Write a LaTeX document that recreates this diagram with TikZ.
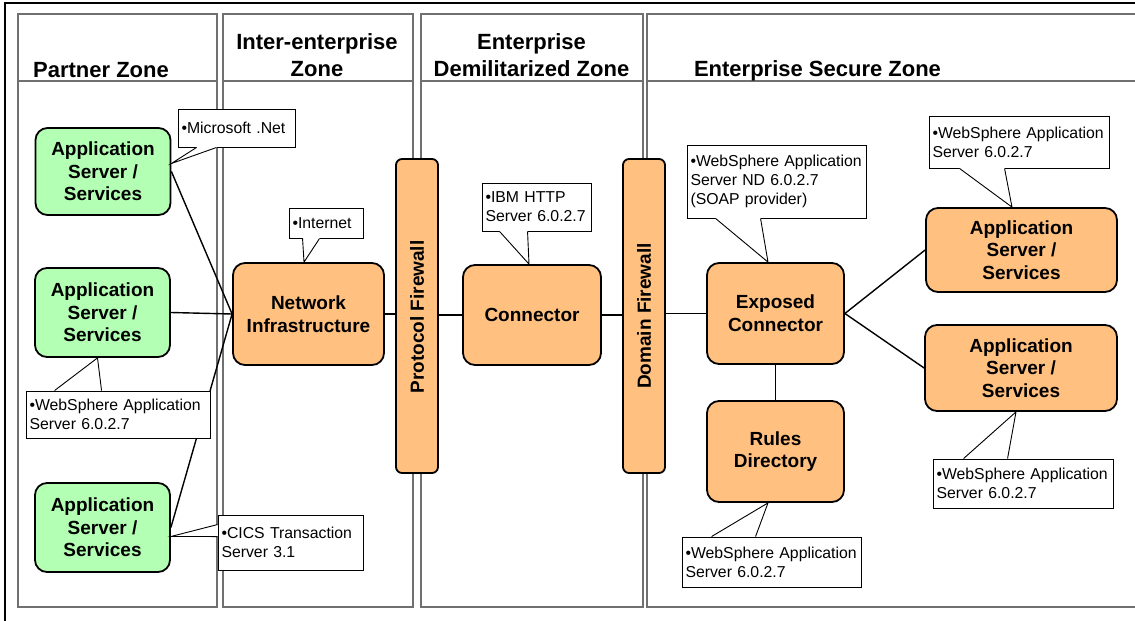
\documentclass[tikz,border=0pt]{standalone}
\usepackage{fontspec}
\setmainfont{Liberation Sans}
\usetikzlibrary{calc}
\definecolor{nodegreen}{RGB}{179,255,179}
\definecolor{nodeorange}{RGB}{255,192,128}
\definecolor{zonegray}{RGB}{112,112,112}
\newcommand{\calloutwedge}[3]{%
  \fill[white] (#1) -- (#3) -- (#2) -- cycle;
  \draw[white, line width=1.6pt] (#1) -- (#2);
  \draw[wedgeline] (#1) -- (#3) -- (#2);}
\begin{document}
\begin{tikzpicture}[x=1pt,y=-1pt,
  zone/.style={draw=zonegray, line width=1.6pt},
  hdr/.style={font=\fontsize{22}{26.5}\selectfont\bfseries, inner sep=0pt, anchor=base},
  box/.style={draw=black, line width=1.8pt, rounded corners=12pt, font=\fontsize{19}{22.7}\selectfont\bfseries, align=center, inner sep=0pt},
  greenbox/.style={box, fill=nodegreen},
  orangebox/.style={box, fill=nodeorange},
  fwbox/.style={draw=black, line width=1.8pt, rounded corners=6pt, fill=nodeorange, inner sep=0pt, minimum width=42pt, minimum height=314pt},
  fwtext/.style={rotate=90, font=\fontsize{19}{22.7}\selectfont\bfseries, inner sep=0pt},
  link/.style={draw=black, line width=1.4pt},
  callout/.style={draw=black, line width=0.9pt, fill=white, inner xsep=3.5pt, inner ysep=0pt, font=\fontsize{15.8}{19}\selectfont, align=left},
  wedgeline/.style={draw=black, line width=0.9pt, line join=miter},
]
\useasboundingbox (0,0) rectangle (1135,621);
\clip (0,0) rectangle (1135,621);

% outer frame
\draw[line width=1.2pt] (5,625) -- (5,3) -- (1140,3);

% zones
\draw[zone] (18,14) rectangle (217,607) (18,81) -- (217,81);
\draw[zone] (223,14) rectangle (413,607) (223,81) -- (413,81);
\draw[zone] (421,14) rectangle (643,607) (421,81) -- (643,81);
\draw[zone] (647,14) rectangle (1145,607) (647,81) -- (1145,81);

\node[hdr] (hPartner) at (101,77) {Partner Zone};
\node[hdr] (hInterA) at (317,49) {Inter-enterprise};
\node[hdr] (hInterB) at (317,76) {Zone};
\node[hdr] (hDmzA) at (531.5,49) {Enterprise};
\node[hdr] (hDmzB) at (531.5,76) {Demilitarized Zone};
\node[hdr] (hSecure) at (817.5,76) {Enterprise Secure Zone};

% nodes
\node[greenbox, minimum width=135pt, minimum height=87pt] (app1) at (103,171.5) {Application\\Server /\\Services};
\node[greenbox, minimum width=135pt, minimum height=89pt] (app2) at (102.5,312.5) {Application\\Server /\\Services};
\node[greenbox, minimum width=135pt, minimum height=89pt] (app3) at (102.5,527.5) {Application\\Server /\\Services};
\node[orangebox, minimum width=151pt, minimum height=102pt] (net) at (308.5,314) {Network\\Infrastructure};
\node[orangebox, minimum width=138pt, minimum height=100pt] (conn) at (532,315) {Connector};
\node[orangebox, minimum width=137pt, minimum height=101pt] (exp) at (775.5,313.5) {Exposed\\Connector};
\node[orangebox, minimum width=137pt, minimum height=101pt] (rules) at (775.5,451.5) {Rules\\Directory};
\node[orangebox, minimum width=191pt, minimum height=84pt] (r1) at (1021.5,250) {Application\\Server /\\Services};
\node[orangebox, minimum width=192pt, minimum height=86pt] (r2) at (1021,368) {Application\\Server /\\Services};

\node[fwbox] (pfw) at (417,316) {};
\node[fwtext] (pfwt) at (417,317) {Protocol Firewall};
\node[fwbox] (dfw) at (644,316) {};
\node[fwtext] (dfwt) at (644,316) {Domain Firewall};

% links
\draw[link] (app1.east) -- (net.west);
\draw[link] (app2.east) -- (net.west);
\draw[link] (app3.east) -- (net.west);
\draw[link] (net.east) -- (net.east -| pfw.west);
\draw[link] (conn.west -| pfw.east) -- (conn.west);
\draw[link] (conn.east) -- (conn.east -| dfw.west);
\draw[link] (exp.west -| dfw.east) -- (exp.west);
\draw[link] (exp.east) -- (r1.west);
\draw[link] (exp.east) -- (r2.west);
\draw[link] (exp.south) -- (rules.north);

% callouts
\node[callout, minimum height=38pt, text width=110pt] (c1) at (236.5,128) {\mbox{•Microsoft .Net}};
\calloutwedge{$(c1.south west)+(19,0)$}{$(c1.south west)+(39,0)$}{$(app1.east)+(0,-8)$}

\node[callout, minimum height=30pt, text width=67pt] (c2) at (326,223) {\mbox{•Internet}};
\calloutwedge{$(c2.south west)+(14,0)$}{$(c2.south west)+(31,0)$}{$(net.north)+(-4.5,0)$}

\node[callout, minimum height=47pt, text width=177pt] (c3) at (118,414.5) {\mbox{•WebSphere Application}\\Server 6.0.2.7};
\calloutwedge{$(c3.north west)+(29,0)$}{$(c3.north west)+(76,0)$}{$(app2.south)+(-5,0)$}

\node[callout, minimum height=55pt, text width=138pt] (c4) at (290.5,542.5) {\mbox{•CICS Transaction}\\Server 3.1};
\calloutwedge{$(c4.north west)+(0,10)$}{$(c4.north west)+(0,22)$}{$(app3.east)+(0,9)$}

\node[callout, minimum height=48pt, text width=102pt] (c5) at (536.5,207) {\mbox{•IBM HTTP}\\Server 6.0.2.7};
\calloutwedge{$(c5.south west)+(18,0)$}{$(c5.south west)+(46,0)$}{$(conn.north)+(-3,0)$}

\node[callout, minimum height=73pt, text width=172pt] (c6) at (776.5,181.5) {\mbox{•WebSphere Application}\\Server ND 6.0.2.7\\(SOAP provider)};
\calloutwedge{$(c6.south west)+(29,0)$}{$(c6.south west)+(74,0)$}{$(exp.north)+(-7.5,0)$}

\node[callout, minimum height=52pt, text width=173pt] (c7) at (1019,142) {\mbox{•WebSphere Application}\\Server 6.0.2.7};
\calloutwedge{$(c7.south west)+(31,0)$}{$(c7.south west)+(76,0)$}{$(r1.north)+(-9.5,0)$}

\node[callout, minimum height=49pt, text width=173pt] (c8) at (1023,483.5) {\mbox{•WebSphere Application}\\Server 6.0.2.7};
\calloutwedge{$(c8.north west)+(31,0)$}{$(c8.north west)+(75,0)$}{$(r2.south)+(-5,0)$}

\node[callout, minimum height=50pt, text width=172pt] (c9) at (771.5,562) {\mbox{•WebSphere Application}\\Server 6.0.2.7};
\calloutwedge{$(c9.north west)+(30,0)$}{$(c9.north west)+(74,0)$}{$(rules.south)+(-7.5,0)$}
\end{tikzpicture}
\end{document}
